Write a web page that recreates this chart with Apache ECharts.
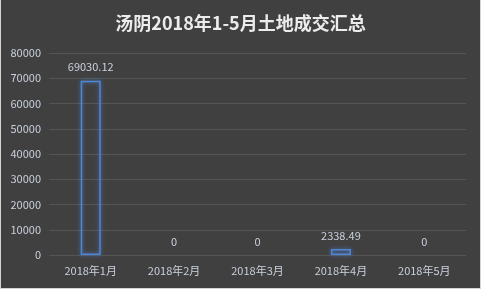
<!DOCTYPE html>
<html><head><meta charset="utf-8">
<script src="https://cdn.jsdelivr.net/npm/echarts@6/dist/echarts.min.js"></script>
<style>html,body{margin:0;padding:0;background:#d4d4d4;}#c{position:absolute;left:1px;top:0;width:479px;height:288px;background:#404040;}</style>
</head><body><div id="c"></div>
<script>
const categories = ['2018年1月','2018年2月','2018年3月','2018年4月','2018年5月'];
const values = [69030.12, 0, 0, 2338.49, 0];
const titleText = '汤阴2018年1-5月土地成交汇总';
const chart = echarts.init(document.getElementById('c'));
const seriesData = values.map(v => v === 0
  ? {value: v, itemStyle: {color: 'transparent', borderWidth: 0, shadowBlur: 0, shadowColor: 'transparent'}}
  : {value: v});
chart.setOption({
  backgroundColor: '#404040',
  title: {text: titleText, left: 'center', top: 9,
    textStyle: {color: '#ececec', fontSize: 18, fontWeight: 'bold', fontFamily: 'Noto Sans CJK SC'}},
  grid: {left: 48, right: 14, top: 53, bottom: 33},
  xAxis: {type: 'category', data: categories,
    axisLine: {show: false}, axisTick: {show: false},
    axisLabel: {color: '#c9d0dc', fontSize: 11, margin: 10, fontFamily: 'Noto Sans CJK SC'}},
  yAxis: {type: 'value', min: 0, max: 80000, interval: 10000,
    axisLine: {show: false}, axisTick: {show: false},
    splitLine: {lineStyle: {color: '#555555'}},
    axisLabel: {color: '#c9d0dc', fontSize: 11, margin: 8, fontFamily: 'Noto Sans CJK SC',
      formatter: v => String(v)}},
  series: [{type: 'bar', data: seriesData, barWidth: 20,
    itemStyle: {color: 'rgba(0,0,0,0)', borderColor: '#4f86d8', borderWidth: 1.5,
      shadowColor: 'rgba(80,140,230,0.8)', shadowBlur: 4},
    label: {show: true, position: 'top', distance: 8, color: '#c9d0dc', fontSize: 11, fontFamily: 'Noto Sans CJK SC'}}]
});
</script></body></html>
